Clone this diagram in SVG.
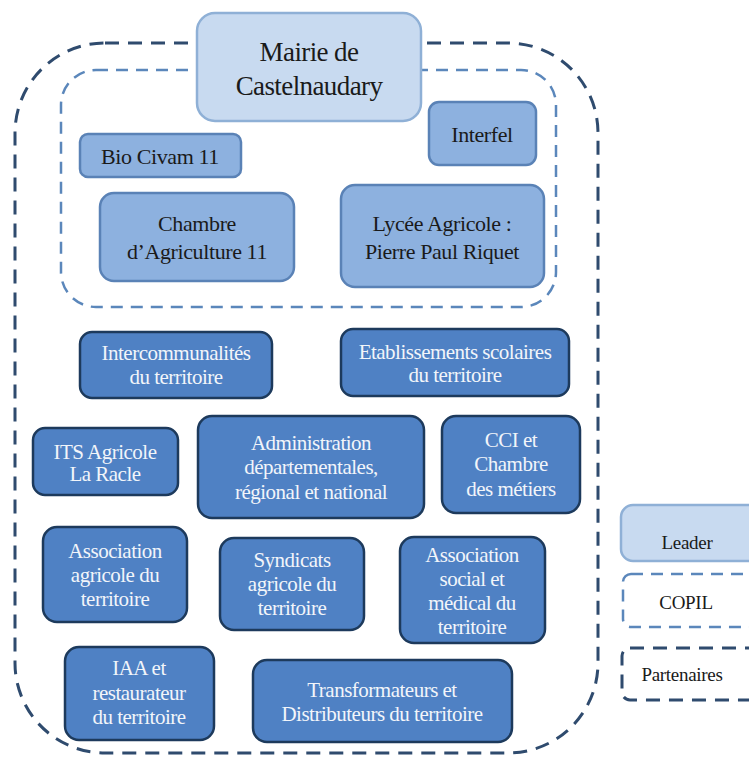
<svg xmlns="http://www.w3.org/2000/svg" width="749" height="758" viewBox="0 0 749 758">
<style>
.bg{fill:#ffffff}
.outer{fill:none;stroke:#2f4b6e;stroke-width:3;stroke-dasharray:14 9}
.inner{fill:none;stroke:#5b87bb;stroke-width:2.5;stroke-dasharray:12 8}
.leader{fill:#c8daf0;stroke:#8fb0d6;stroke-width:2.5}
.mid{fill:#8db1df;stroke:#5a82b6;stroke-width:2.5}
.dark{fill:#4f81c4;stroke:#1d3a5c;stroke-width:2.5}
text{font-family:'Liberation Serif','DejaVu Serif',serif;text-anchor:middle}
.t-l{font-size:27px;fill:#1a1a1a;letter-spacing:-0.6px}
.t-m{font-size:22px;fill:#1a1a1a;letter-spacing:-0.4px}
.t-d{font-size:21px;fill:#f2f5fa;letter-spacing:-0.5px}
.t-g{font-size:19px;fill:#1a1a1a;letter-spacing:-0.3px}
</style>
<rect class="bg" x="0" y="0" width="749" height="758"/>
<g id="containers">
<rect id="partenaires-zone" class="outer" x="15" y="43" width="583" height="710" rx="90"/>
<rect id="copil-zone" class="inner" x="61" y="70" width="495" height="237" rx="35"/>
</g>
<g id="connectors"></g>
<g font-family="Liberation Serif, serif">
<g id="mairie"><rect class="leader" x="197" y="13" width="224" height="108" rx="18"/><text class="t-l" x="309" y="61">Mairie de</text><text class="t-l" x="309" y="95">Castelnaudary</text></g>
<g id="biocivam"><rect class="mid" x="80" y="134" width="161" height="43" rx="8"/><text class="t-m" x="160" y="164">Bio Civam 11</text></g>
<g id="interfel"><rect class="mid" x="429" y="102" width="107" height="63" rx="10"/><text class="t-m" x="482" y="142">Interfel</text></g>
<g id="chambre"><rect class="mid" x="100" y="193" width="194" height="88" rx="14"/><text class="t-m" x="197" y="231">Chambre</text><text class="t-m" x="197" y="259">d’Agriculture  11</text></g>
<g id="lycee"><rect class="mid" x="341" y="185" width="203" height="102" rx="14"/><text class="t-m" x="442" y="231">Lycée Agricole :</text><text class="t-m" x="442" y="259">Pierre Paul Riquet</text></g>
<g id="intercom"><rect class="dark" x="80" y="332" width="192" height="66" rx="12"/><text class="t-d" x="176" y="360">Intercommunalités</text><text class="t-d" x="176" y="384">du territoire</text></g>
<g id="etablissements"><rect class="dark" x="341" y="329" width="228" height="67" rx="12"/><text class="t-d" x="455" y="359">Etablissements  scolaires</text><text class="t-d" x="455" y="382">du territoire</text></g>
<g id="its"><rect class="dark" x="33" y="428" width="145" height="67" rx="12"/><text class="t-d" x="105" y="459">ITS Agricole</text><text class="t-d" x="105" y="481">La Racle</text></g>
<g id="administration"><rect class="dark" x="198" y="416" width="226" height="102" rx="14"/><text class="t-d" x="311" y="450">Administration</text><text class="t-d" x="311" y="474">départementales,</text><text class="t-d" x="311" y="499">régional  et national</text></g>
<g id="cci"><rect class="dark" x="442" y="416" width="138" height="97" rx="14"/><text class="t-d" x="511" y="447">CCI et</text><text class="t-d" x="511" y="471">Chambre</text><text class="t-d" x="511" y="496">des métiers</text></g>
<g id="assoc-agricole"><rect class="dark" x="43" y="527" width="144" height="95" rx="14"/><text class="t-d" x="115" y="558">Association</text><text class="t-d" x="115" y="582">agricole  du</text><text class="t-d" x="115" y="606">territoire</text></g>
<g id="syndicats"><rect class="dark" x="220" y="538" width="144" height="92" rx="14"/><text class="t-d" x="292" y="567">Syndicats</text><text class="t-d" x="292" y="591">agricole  du</text><text class="t-d" x="292" y="615">territoire</text></g>
<g id="assoc-social"><rect class="dark" x="400" y="537" width="145" height="106" rx="14"/><text class="t-d" x="472" y="562">Association</text><text class="t-d" x="472" y="586">social et</text><text class="t-d" x="472" y="610">médical  du</text><text class="t-d" x="472" y="634">territoire</text></g>
<g id="iaa"><rect class="dark" x="65" y="647" width="149" height="93" rx="14"/><text class="t-d" x="139" y="675">IAA et</text><text class="t-d" x="139" y="700">restaurateur</text><text class="t-d" x="139" y="724">du territoire</text></g>
<g id="transformateurs"><rect class="dark" x="253" y="660" width="259" height="82" rx="14"/><text class="t-d" x="382" y="697">Transformateurs et</text><text class="t-d" x="382" y="721">Distributeurs  du territoire</text></g>
<g id="legend">
<g id="legend-leader"><rect class="leader" x="621" y="505" width="150" height="56" rx="12"/><text class="t-g" x="687" y="549">Leader</text></g>
<g id="legend-copil"><rect class="inner" x="623" y="574" width="150" height="53" rx="8"/><text class="t-g" x="686" y="609">COPIL</text></g>
<g id="legend-partenaires"><rect class="outer" x="622" y="648" width="150" height="52" rx="8"/><text class="t-g" x="682" y="681">Partenaires</text></g>
</g>
</g>
</svg>
